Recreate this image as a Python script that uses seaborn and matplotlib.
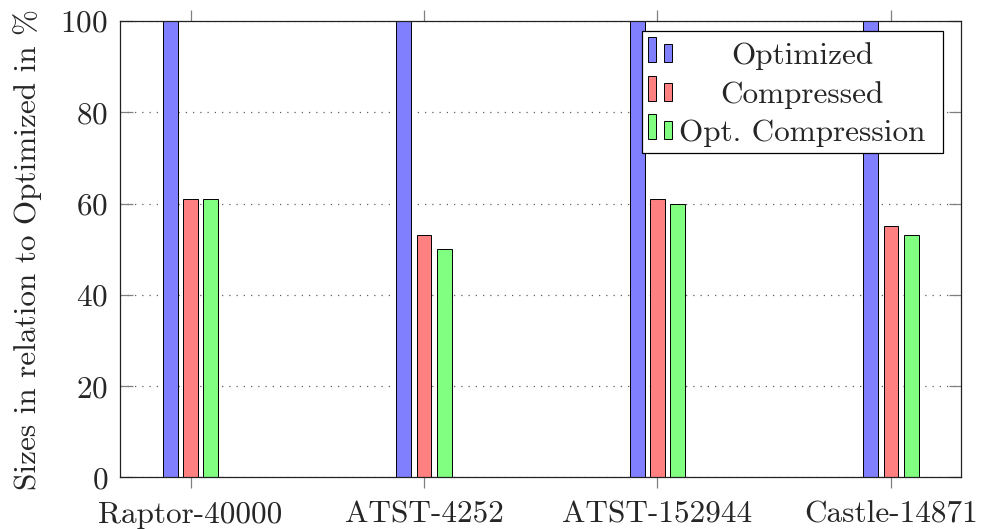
import numpy as np
import pandas as pd
import matplotlib
matplotlib.use("Agg")
import matplotlib.pyplot as plt
import seaborn as sns
from matplotlib.offsetbox import AnchoredOffsetbox, VPacker, HPacker, TextArea, DrawingArea
from matplotlib.patches import Rectangle

# ---- data -------------------------------------------------------------
datasets = ["Raptor-40000", "ATST-4252", "ATST-152944", "Castle-14871"]
optimized = [100, 100, 100, 100]
compressed = [61, 53, 61, 55]
opt_compression = [61, 50, 60, 53]
series_names = ["Optimized", "Compressed", "Opt. Compression"]
series_colors = ["#8080ff", "#ff8080", "#80ff80"]
y_ticks = [0, 20, 40, 60, 80, 100]
y_label = "Sizes in relation to Optimized in %"

records = []
for name, values in zip(series_names, [optimized, compressed, opt_compression]):
    for ds, v in zip(datasets, values):
        records.append({"dataset": ds, "format": name, "size": v})
df = pd.DataFrame(records)

# ---- style ------------------------------------------------------------
sns.set_style("white")
plt.rcParams["font.family"] = ["cmr10", "DejaVu Serif"]
plt.rcParams["axes.formatter.use_mathtext"] = True
plt.rcParams["mathtext.fontset"] = "cm"
FS = 22.5

fig = plt.figure(figsize=(9.81, 5.29), dpi=100)
ax = fig.add_axes([0.1228, 0.0977, 0.8568, 0.8626])

sns.barplot(
    data=df, x="dataset", y="size", hue="format",
    order=datasets, hue_order=series_names, palette=series_colors,
    saturation=1, width=0.26, gap=0.27, edgecolor="black", linewidth=0.7,
    errorbar=None, legend=False, ax=ax,
)

ax.set_xlim(-0.3, 3.3)
ax.set_ylim(0, 100)
ax.set_yticks(y_ticks)
ax.set_xlabel("")
ax.set_ylabel(y_label, fontsize=FS, labelpad=13)

ax.tick_params(axis="x", direction="out", length=8, width=0.9, color="#808080",
               bottom=True, top=True, labelsize=FS, pad=9)
ax.tick_params(axis="y", direction="in", length=9, width=0.9, color="#808080",
               left=True, right=True, labelsize=FS, pad=9)
ax.grid(axis="y", linestyle=(0, (1, 4.8)), color="#606060", linewidth=0.9)
ax.grid(axis="x", visible=False)
ax.set_axisbelow(True)
for s in ax.spines.values():
    s.set_visible(True)
    s.set_color("#222222")
    s.set_linewidth(0.9)

# ---- legend with centred labels and two-bar icons ----------------------
renderer = fig.canvas.get_renderer()
widths = []
for name in series_names:
    t = fig.text(0, 0, name, fontsize=FS)
    widths.append(t.get_window_extent(renderer).width * 72 / fig.dpi)
    t.remove()
col_w = max(widths)

rows = []
for name, color in zip(series_names, series_colors):
    icon = DrawingArea(17.3, 19.4, 0, 0)
    icon.add_artist(Rectangle((0, 1.4), 5.8, 18, facecolor=color, edgecolor="black", linewidth=0.7))
    icon.add_artist(Rectangle((11.5, 1.4), 5.8, 13, facecolor=color, edgecolor="black", linewidth=0.7))
    cell = VPacker(children=[TextArea(name, textprops=dict(fontsize=FS)), DrawingArea(col_w, 0)],
                   align="center", pad=0, sep=0)
    rows.append(HPacker(children=[icon, cell, DrawingArea(3, 0)], align="baseline", pad=0, sep=5))

body = VPacker(children=rows, align="left", pad=0, sep=4)
legend_box = AnchoredOffsetbox(
    loc="upper right", child=body, pad=0.2, borderpad=0, frameon=True,
    bbox_to_anchor=(0.9786, 0.978), bbox_transform=ax.transAxes, prop=dict(size=FS),
)
legend_box.patch.set_edgecolor("black")
legend_box.patch.set_linewidth(0.9)
ax.add_artist(legend_box)

fig.savefig("out.png", dpi=100)
